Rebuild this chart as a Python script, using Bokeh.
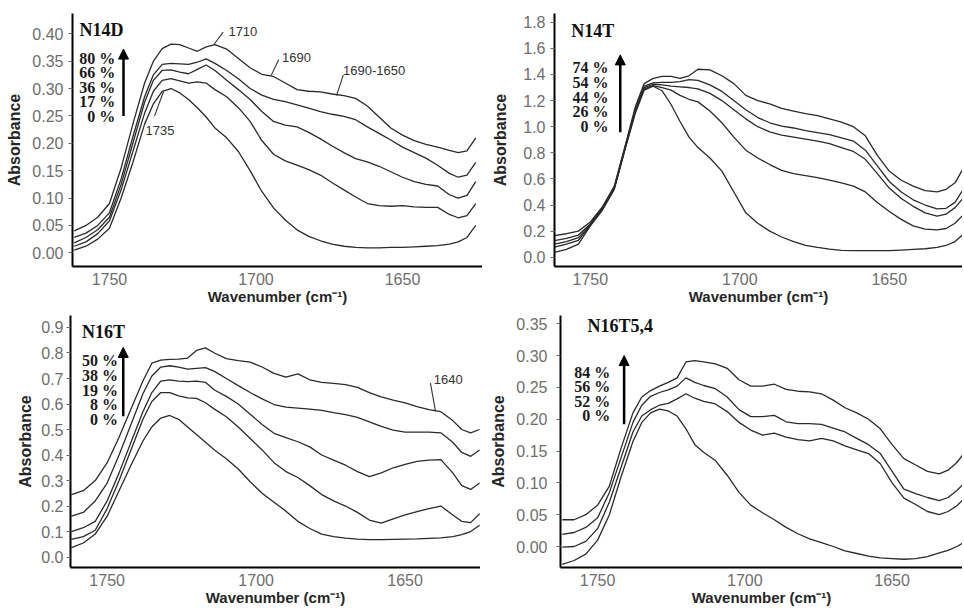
from bokeh.plotting import figure
from bokeh.layouts import column, row
from bokeh.models import Range1d, FixedTicker, Label, Arrow, NormalHead, PrintfTickFormatter
from bokeh.embed import file_html
from bokeh.resources import INLINE

# ---------------- data ----------------
wn_grid = [1762, 1758, 1754, 1750, 1746, 1742, 1738, 1735, 1732, 1729, 1726, 1723, 1720,
           1717, 1714, 1710, 1706, 1702, 1698, 1694, 1690, 1686, 1682, 1678, 1674, 1670,
           1666, 1662, 1658, 1654, 1650, 1646, 1642, 1638, 1634, 1631, 1628, 1625]

# N14D
n14d_0 = [0.005, 0.012, 0.025, 0.045, 0.100, 0.165, 0.235, 0.272, 0.295, 0.300, 0.292, 0.280, 0.265,
          0.248, 0.228, 0.210, 0.185, 0.150, 0.112, 0.082, 0.060, 0.042, 0.030, 0.022, 0.016, 0.012,
          0.010, 0.009, 0.009, 0.010, 0.010, 0.011, 0.012, 0.013, 0.016, 0.020, 0.028, 0.050]
n14d_17 = [0.012, 0.020, 0.035, 0.058, 0.115, 0.185, 0.255, 0.295, 0.315, 0.318, 0.314, 0.310, 0.312,
           0.310, 0.298, 0.285, 0.265, 0.240, 0.205, 0.180, 0.168, 0.160, 0.152, 0.142, 0.128, 0.115,
           0.102, 0.090, 0.086, 0.085, 0.086, 0.084, 0.083, 0.083, 0.070, 0.064, 0.068, 0.090]
n14d_36 = [0.018, 0.028, 0.042, 0.065, 0.125, 0.200, 0.275, 0.315, 0.333, 0.334, 0.330, 0.327, 0.335,
           0.343, 0.333, 0.315, 0.298, 0.280, 0.258, 0.240, 0.233, 0.230, 0.220, 0.208, 0.195, 0.183,
           0.172, 0.166, 0.158, 0.148, 0.138, 0.130, 0.125, 0.122, 0.106, 0.100, 0.105, 0.130]
n14d_66 = [0.028, 0.036, 0.050, 0.073, 0.135, 0.212, 0.285, 0.325, 0.344, 0.346, 0.345, 0.344, 0.348,
           0.354, 0.346, 0.333, 0.318, 0.300, 0.288, 0.280, 0.276, 0.270, 0.264, 0.258, 0.253, 0.249,
           0.243, 0.230, 0.218, 0.206, 0.193, 0.183, 0.173, 0.160, 0.145, 0.138, 0.142, 0.165]
n14d_80 = [0.040, 0.050, 0.065, 0.090, 0.155, 0.235, 0.310, 0.350, 0.373, 0.381, 0.380, 0.374, 0.368,
           0.376, 0.380, 0.372, 0.355, 0.338, 0.326, 0.322, 0.310, 0.298, 0.295, 0.294, 0.290, 0.287,
           0.282, 0.268, 0.248, 0.228, 0.215, 0.205, 0.198, 0.193, 0.187, 0.183, 0.186, 0.210]

# N14T
n14t_0 = [0.038, 0.060, 0.100, 0.240, 0.360, 0.520, 0.860, 1.100, 1.280, 1.310, 1.275, 1.170, 1.040,
          0.920, 0.840, 0.760, 0.660, 0.500, 0.340, 0.260, 0.200, 0.155, 0.120, 0.090, 0.075, 0.062,
          0.053, 0.050, 0.050, 0.050, 0.050, 0.055, 0.060, 0.065, 0.075, 0.090, 0.120, 0.180]
n14t_26 = [0.077, 0.100, 0.130, 0.245, 0.365, 0.525, 0.865, 1.110, 1.290, 1.315, 1.300, 1.280, 1.240,
           1.210, 1.190, 1.120, 1.030, 0.920, 0.820, 0.760, 0.710, 0.665, 0.640, 0.625, 0.610, 0.590,
           0.570, 0.545, 0.500, 0.420, 0.350, 0.290, 0.240, 0.215, 0.210, 0.220, 0.260, 0.330]
n14t_44 = [0.100, 0.120, 0.150, 0.250, 0.370, 0.530, 0.870, 1.120, 1.300, 1.325, 1.320, 1.310, 1.305,
           1.300, 1.290, 1.255, 1.200, 1.130, 1.060, 1.000, 0.960, 0.935, 0.920, 0.905, 0.890, 0.870,
           0.840, 0.810, 0.750, 0.640, 0.530, 0.450, 0.390, 0.340, 0.315, 0.330, 0.380, 0.460]
n14t_54 = [0.128, 0.145, 0.170, 0.255, 0.375, 0.535, 0.875, 1.130, 1.310, 1.335, 1.340, 1.340, 1.345,
           1.360, 1.355, 1.320, 1.270, 1.200, 1.130, 1.070, 1.030, 1.005, 0.990, 0.970, 0.955, 0.940,
           0.915, 0.890, 0.820, 0.700, 0.580, 0.500, 0.440, 0.400, 0.370, 0.375, 0.420, 0.530]
n14t_74 = [0.166, 0.180, 0.200, 0.270, 0.385, 0.545, 0.885, 1.150, 1.330, 1.370, 1.385, 1.385, 1.370,
           1.390, 1.440, 1.435, 1.390, 1.330, 1.240, 1.200, 1.175, 1.140, 1.120, 1.100, 1.085, 1.060,
           1.035, 1.000, 0.930, 0.780, 0.660, 0.590, 0.545, 0.510, 0.500, 0.520, 0.570, 0.690]

# N16T
n16t_0 = [0.037, 0.055, 0.090, 0.160, 0.260, 0.360, 0.455, 0.510, 0.545, 0.555, 0.540, 0.510, 0.480,
          0.450, 0.420, 0.385, 0.345, 0.295, 0.250, 0.215, 0.180, 0.140, 0.112, 0.090, 0.080, 0.074,
          0.070, 0.068, 0.068, 0.069, 0.070, 0.071, 0.073, 0.075, 0.080, 0.088, 0.100, 0.125]
n16t_8 = [0.069, 0.080, 0.105, 0.190, 0.300, 0.420, 0.540, 0.610, 0.645, 0.645, 0.632, 0.624, 0.622,
          0.605, 0.580, 0.550, 0.510, 0.465, 0.420, 0.370, 0.335, 0.312, 0.280, 0.245, 0.220, 0.200,
          0.175, 0.145, 0.133, 0.150, 0.165, 0.178, 0.190, 0.200, 0.165, 0.140, 0.135, 0.170]
n16t_19 = [0.100, 0.115, 0.140, 0.220, 0.330, 0.450, 0.570, 0.645, 0.690, 0.695, 0.690, 0.688, 0.690,
           0.685, 0.655, 0.630, 0.600, 0.560, 0.520, 0.485, 0.468, 0.452, 0.432, 0.400, 0.380, 0.360,
           0.335, 0.315, 0.330, 0.350, 0.363, 0.375, 0.380, 0.382, 0.330, 0.280, 0.265, 0.290]
n16t_38 = [0.160, 0.175, 0.220, 0.290, 0.400, 0.520, 0.640, 0.710, 0.745, 0.750, 0.745, 0.737, 0.740,
           0.743, 0.728, 0.700, 0.672, 0.645, 0.620, 0.598, 0.588, 0.584, 0.580, 0.575, 0.566, 0.558,
           0.548, 0.530, 0.512, 0.498, 0.490, 0.490, 0.490, 0.487, 0.450, 0.410, 0.395, 0.420]
n16t_50 = [0.245, 0.260, 0.300, 0.370, 0.470, 0.580, 0.690, 0.760, 0.772, 0.775, 0.776, 0.780, 0.810,
           0.820, 0.800, 0.778, 0.770, 0.764, 0.745, 0.720, 0.705, 0.718, 0.695, 0.685, 0.681, 0.676,
           0.665, 0.645, 0.628, 0.615, 0.604, 0.590, 0.578, 0.570, 0.535, 0.500, 0.487, 0.500]

# N16T5,4
n16t54_0 = [-0.028, -0.022, -0.012, 0.010, 0.050, 0.110, 0.165, 0.195, 0.210, 0.216, 0.213, 0.205, 0.185,
            0.160, 0.148, 0.135, 0.112, 0.085, 0.065, 0.053, 0.042, 0.030, 0.020, 0.012, 0.006, 0.000,
            -0.007, -0.011, -0.015, -0.018, -0.019, -0.020, -0.019, -0.016, -0.010, -0.006, 0.000, 0.008]
n16t54_52 = [-0.001, 0.000, 0.008, 0.028, 0.070, 0.125, 0.180, 0.205, 0.215, 0.222, 0.225, 0.232, 0.240,
             0.233, 0.228, 0.224, 0.212, 0.195, 0.183, 0.175, 0.178, 0.172, 0.168, 0.166, 0.170, 0.166,
             0.158, 0.152, 0.146, 0.130, 0.100, 0.076, 0.066, 0.055, 0.050, 0.055, 0.064, 0.078]
n16t54_56 = [0.019, 0.022, 0.030, 0.045, 0.085, 0.140, 0.195, 0.222, 0.236, 0.242, 0.246, 0.252, 0.265,
             0.258, 0.253, 0.248, 0.235, 0.215, 0.204, 0.204, 0.206, 0.196, 0.193, 0.193, 0.192, 0.186,
             0.180, 0.170, 0.160, 0.146, 0.118, 0.090, 0.083, 0.077, 0.072, 0.077, 0.088, 0.102]
n16t54_84 = [0.042, 0.042, 0.050, 0.065, 0.095, 0.155, 0.210, 0.235, 0.245, 0.252, 0.258, 0.265, 0.290,
             0.292, 0.290, 0.287, 0.280, 0.262, 0.252, 0.252, 0.255, 0.247, 0.244, 0.243, 0.240, 0.230,
             0.218, 0.210, 0.200, 0.185, 0.160, 0.138, 0.128, 0.118, 0.114, 0.120, 0.132, 0.150]

x_ticks = [1750, 1700, 1650]
n14d_pct = ["80 %", "66 %", "36 %", "17 %", "0 %"]
n14t_pct = ["74 %", "54 %", "44 %", "26 %", "0 %"]
n16t_pct = ["50 %", "38 %", "19 %", "8 %", "0 %"]
n16t54_pct = ["84 %", "56 %", "52 %", "0 %"]

TICK_FONT = "Liberation Sans"
SERIF = "Liberation Serif"
LINE_COL = "#2a2a2a"


def make_panel(width, height, xr, yr, yticks, yfmt, bl, bt, bb, tick_standoff, label_standoff):
    p = figure(width=width, height=height, output_backend="svg", toolbar_location=None,
               x_range=Range1d(*xr), y_range=Range1d(*yr),
               min_border_left=bl, min_border_right=0, min_border_top=bt, min_border_bottom=bb)
    p.outline_line_color = None
    p.grid.visible = False
    p.background_fill_color = "white"
    p.border_fill_color = "white"
    p.xaxis.ticker = FixedTicker(ticks=x_ticks)
    p.yaxis.ticker = FixedTicker(ticks=yticks)
    p.yaxis.formatter = PrintfTickFormatter(format=yfmt)
    for ax in (p.xaxis, p.yaxis):
        ax.axis_line_width = 2
        ax.axis_line_color = "black"
        ax.major_label_text_font = TICK_FONT
        ax.major_label_text_font_size = "16px"
        ax.major_label_text_color = "#6e6e6e"
        ax.minor_tick_line_color = None
        ax.axis_label_text_font = TICK_FONT
        ax.axis_label_text_font_style = "bold"
        ax.axis_label_text_color = "#262626"
    p.xaxis.axis_label_text_font_size = "15px"
    p.yaxis.axis_label_text_font_size = "16px"
    p.xaxis.major_tick_line_color = None
    p.xaxis.major_tick_out = 0
    p.xaxis.major_tick_in = 0
    p.xaxis.major_label_standoff = 6
    p.xaxis.axis_label_standoff = 0
    p.yaxis.major_tick_line_color = "#666666"
    p.yaxis.major_tick_out = 4
    p.yaxis.major_tick_in = 0
    p.yaxis.major_label_standoff = tick_standoff
    p.yaxis.axis_label_standoff = label_standoff
    p.xaxis.axis_label = "Wavenumber (cm\u207b\u00b9)"
    p.yaxis.axis_label = "Absorbance"
    return p


def add_curves(p, series):
    for s in series:
        p.line(wn_grid, s, line_color=LINE_COL, line_width=1.3)


def add_legend(p, title, tx, ty, pcts, px, py0, dy, ax, ay0, ay1, title_size="18px"):
    p.add_layout(Label(x=tx, y=ty, text=title, text_font=SERIF, text_font_style="bold",
                       text_font_size=title_size, text_color="#111111",
                       text_align="left", text_baseline="middle"))
    for i, t in enumerate(pcts):
        p.add_layout(Label(x=px, y=py0 - i * dy, text=t, text_font=SERIF, text_font_style="bold",
                           text_font_size="16px", text_color="#1a1a1a",
                           text_align="right", text_baseline="middle"))
    p.add_layout(Arrow(x_start=ax, y_start=ay0, x_end=ax, y_end=ay1, line_width=2.5,
                       line_color="black",
                       end=NormalHead(size=10, line_color="black", fill_color="black")))


def add_note(p, text, tx, ty, x0, y0, x1, y1):
    p.segment(x0=[x0], y0=[y0], x1=[x1], y1=[y1], line_color="#333333", line_width=1.1)
    p.add_layout(Label(x=tx, y=ty, text=text, text_font=TICK_FONT, text_font_size="13px",
                       text_color="#333333", text_align="left", text_baseline="middle"))


# ---- panel 1: N14D ----
p1 = make_panel(482, 310, (1762.6, 1622.7), (-0.025, 0.437),
                [0.0, 0.05, 0.10, 0.15, 0.20, 0.25, 0.30, 0.35, 0.40], "%.2f",
                72, 12, 44, 5, 6)
add_curves(p1, [n14d_0, n14d_17, n14d_36, n14d_66, n14d_80])
add_legend(p1, "N14D", 1760.2, 0.406, n14d_pct, 1748.0, 0.355, 0.0263, 1745.2, 0.25, 0.372)
add_note(p1, "1710", 1709.4, 0.404, 1714.4, 0.380, 1711.2, 0.403)
add_note(p1, "1690", 1691.1, 0.357, 1694.8, 0.324, 1692.2, 0.353)
add_note(p1, "1690-1650", 1670.3, 0.333, 1672.5, 0.287, 1670.2, 0.325)
add_note(p1, "1735", 1737.7, 0.224, 1731.5, 0.295, 1734.6, 0.250)

# ---- panel 2: N14T ----
p2 = make_panel(480, 310, (1762.0, 1625.5), (-0.071, 1.867),
                [0.0, 0.2, 0.4, 0.6, 0.8, 1.0, 1.2, 1.4, 1.6, 1.8], "%.1f",
                72, 13, 41, 5, 11)
add_curves(p2, [n14t_0, n14t_26, n14t_44, n14t_54, n14t_74])
add_legend(p2, "N14T", 1756.4, 1.736, n14t_pct, 1743.9, 1.455, 0.114, 1740.0, 0.957, 1.55)

# ---- panel 3: N16T ----
p3 = make_panel(480, 300, (1762.3, 1624.7), (-0.041, 0.947),
                [0.0, 0.1, 0.2, 0.3, 0.4, 0.5, 0.6, 0.7, 0.8, 0.9], "%.1f",
                70, 0, 43, 3, 4)
add_curves(p3, [n16t_0, n16t_8, n16t_19, n16t_38, n16t_50])
add_legend(p3, "N16T", 1758.4, 0.884, n16t_pct, 1746.4, 0.770, 0.0578, 1744.6, 0.552, 0.822)
add_note(p3, "1640", 1640.4, 0.695, 1639.8, 0.571, 1641.5, 0.682)

# ---- panel 4: N16T5,4 ----
p4 = make_panel(482, 300, (1762.6, 1626.1), (-0.033, 0.363),
                [0.0, 0.05, 0.10, 0.15, 0.20, 0.25, 0.30, 0.35], "%.2f",
                80, 5, 42, 9, 6)
add_curves(p4, [n16t54_0, n16t54_52, n16t54_56, n16t54_84])
add_legend(p4, "N16T5,4", 1753.4, 0.346, n16t54_pct, 1745.7, 0.274, 0.0227, 1741.0, 0.192, 0.30)

layout = column(row(p1, p2), row(p3, p4))

open("out.html", "w").write(file_html(layout, INLINE))
